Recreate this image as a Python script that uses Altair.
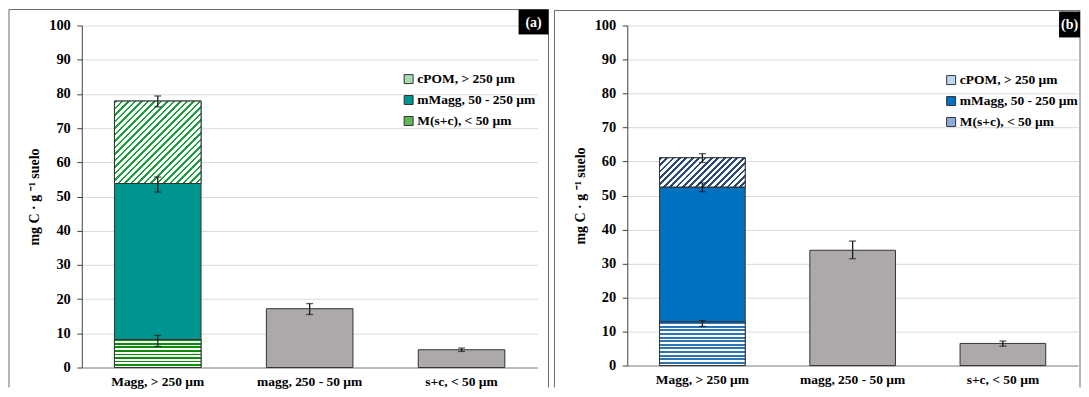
import altair as alt
import pandas as pd

categories = ["Magg, > 250 µm", "magg, 250 - 50 µm", "s+c, < 50 µm"]
fractions = ["cPOM, > 250 µm", "mMagg, 50 - 250 µm", "M(s+c), < 50 µm"]

# Panel (a): fractions of Magg (cPOM, mMagg, M(s+c)) and the other two size classes
a_frac_vals = [24.1, 45.6, 8.2]
a_frac_err_mid = [77.8, 53.5, 7.8]
a_frac_err = [1.6, 2.2, 1.6]
a_other_vals = [17.2, 5.2]
a_other_err_mid = [17.1, 5.2]
a_other_err = [1.6, 0.5]

# Panel (b)
b_frac_vals = [8.6, 39.7, 12.8]
b_frac_err_mid = [61.0, 52.4, 12.35]
b_frac_err = [1.3, 1.3, 0.85]
b_other_vals = [33.9, 6.5]
b_other_err_mid = [34.0, 6.45]
b_other_err = [2.6, 0.75]

y_ticks = [0, 10, 20, 30, 40, 50, 60, 70, 80, 90, 100]
y_title = "mg C · g ⁻¹ suelo"

FONT = "Liberation Serif"
PAD_IN = 0.43


def build(frac_vals, frac_err_mid, frac_err, other_vals, other_err_mid, other_err):
    seg = []
    cum = 0.0
    for f, v in reversed(list(zip(fractions, frac_vals))):
        seg.append({"cat": categories[0], "frac": f, "lo": cum, "hi": cum + v})
        cum += v
    oth = [{"cat": c, "lo": 0.0, "hi": v} for c, v in zip(categories[1:], other_vals)]
    err = [{"cat": categories[0], "lo": m - e, "hi": m + e}
           for m, e in zip(frac_err_mid, frac_err)]
    err += [{"cat": c, "lo": m - e, "hi": m + e}
            for c, m, e in zip(categories[1:], other_err_mid, other_err)]
    return pd.DataFrame(seg), pd.DataFrame(oth), pd.DataFrame(err)


def stripe_stops(c_on, c_off, n, frac_on):
    stops = []
    for i in range(n):
        a = i / n
        b = (i + frac_on) / n
        c = (i + 1) / n
        stops += [
            alt.GradientStop(color=c_on, offset=round(a, 5)),
            alt.GradientStop(color=c_on, offset=round(b, 5)),
            alt.GradientStop(color=c_off, offset=round(b, 5)),
            alt.GradientStop(color=c_off, offset=round(c, 5)),
        ]
    return stops


def diag_gradient(color, w, h, period=6.4, frac_on=0.45):
    n = max(1, round((w + h) / period))
    k = w * (w + h) / (w * w + h * h)
    return alt.LinearGradient(gradient="linear", x1=0, y1=0, x2=round(k, 4),
                              y2=round(k * h / w, 4),
                              stops=stripe_stops(color, "#ffffff", n, frac_on))


def horiz_gradient(color, h, period=3.6, frac_on=0.55):
    n = max(1, round(h / period))
    return alt.LinearGradient(gradient="linear", x1=0, y1=0, x2=0, y2=1,
                              stops=stripe_stops(color, "#ffffff", n, frac_on))


def panel(data, W, H, legend_colors, diag_col, horiz_col, label,
          box, frame_top, frame_bottom, frame_right, legend_xy):
    seg, oth, err = data
    step = W / 3.0
    bw = step * (1 - PAD_IN)
    ppu = H / 100.0
    h_cpom = float(seg.loc[seg.frac == fractions[0], "hi"].iloc[0]
                   - seg.loc[seg.frac == fractions[0], "lo"].iloc[0]) * ppu
    h_ms = float(seg.loc[seg.frac == fractions[2], "hi"].iloc[0]
                 - seg.loc[seg.frac == fractions[2], "lo"].iloc[0]) * ppu

    x = alt.X("cat:N", scale=alt.Scale(domain=categories, paddingInner=PAD_IN,
                                       paddingOuter=PAD_IN / 2),
              axis=alt.Axis(title=None, labelAngle=0))
    yaxis = alt.Axis(values=y_ticks, title=y_title)
    yscale = alt.Scale(domain=[0, 100], nice=False)
    y = alt.Y("lo:Q", scale=yscale, axis=yaxis)
    yhi = alt.Y("hi:Q", scale=yscale, axis=yaxis)
    y2 = alt.Y2("hi:Q")

    base_seg = alt.Chart(seg)
    solid_layer = base_seg.mark_bar(stroke="#333333", strokeWidth=1).encode(
        x=x, y=y, y2=y2,
        color=alt.Color("frac:N", scale=alt.Scale(domain=fractions, range=legend_colors),
                        legend=alt.Legend(
                            title=None, orient="none", legendX=legend_xy[0],
                            legendY=legend_xy[1], symbolType="square", symbolSize=81,
                            symbolStrokeColor="#333333", symbolStrokeWidth=1,
                            labelFont=FONT, labelFontSize=13.5, labelFontWeight="bold",
                            labelColor="#000000", rowPadding=6, labelOffset=2,
                            padding=0, labelLimit=300)),
    )
    cpom_layer = base_seg.transform_filter(alt.datum.frac == fractions[0]).mark_bar(
        fill=diag_gradient(diag_col, bw, h_cpom), stroke="#333333", strokeWidth=1
    ).encode(x=x, y=y, y2=y2)
    ms_layer = base_seg.transform_filter(alt.datum.frac == fractions[2]).mark_bar(
        fill=horiz_gradient(horiz_col, h_ms), stroke="#333333", strokeWidth=1
    ).encode(x=x, y=y, y2=y2)
    gray_layer = alt.Chart(oth).mark_bar(fill="#ada9a8", stroke="#333333",
                                         strokeWidth=1).encode(x=x, y=y, y2=y2)
    err_rule = alt.Chart(err).mark_rule(color="#1a1a1a", strokeWidth=1.3).encode(
        x=x, y=y, y2=y2)
    err_lo = alt.Chart(err).mark_tick(color="#1a1a1a", size=7, thickness=1.3).encode(
        x=x, y=y)
    err_hi = alt.Chart(err).mark_tick(color="#1a1a1a", size=7, thickness=1.3).encode(
        x=x, y=yhi)

    one = alt.Data(values=[{"k": 1}])
    frame = [
        alt.Chart(one).mark_rule(color="#6b6b6b", strokeWidth=1).encode(
            x=alt.value(-73), x2=alt.value(frame_right), y=alt.value(frame_top)),
        alt.Chart(one).mark_rule(color="#6b6b6b", strokeWidth=1).encode(
            x=alt.value(-73), y=alt.value(frame_top), y2=alt.value(frame_bottom)),
    ]
    if frame_right <= W + 15:
        frame.append(alt.Chart(one).mark_rule(color="#6b6b6b", strokeWidth=1).encode(
            x=alt.value(frame_right), y=alt.value(frame_top), y2=alt.value(frame_bottom)))
    bx0, bx1, by0, by1 = box
    box_rect = alt.Chart(one).mark_rect(color="#000000").encode(
        x=alt.value(bx0), x2=alt.value(bx1), y=alt.value(by0), y2=alt.value(by1))
    box_text = alt.Chart(one).mark_text(
        color="#ffffff", font=FONT, fontWeight="bold", fontSize=14,
        align="center", baseline="middle").encode(
        x=alt.value((bx0 + bx1) / 2), y=alt.value((by0 + by1) / 2 + 1),
        text=alt.value(label))

    return alt.layer(solid_layer, cpom_layer, ms_layer, gray_layer, err_rule,
                     err_lo, err_hi, *frame, box_rect, box_text).properties(
        width=W, height=H)


Wa, Ha = 457, 343
Wb, Hb = 452, 341

pa = panel(build(a_frac_vals, a_frac_err_mid, a_frac_err, a_other_vals,
                 a_other_err_mid, a_other_err),
           Wa, Ha, ["#a3dbb4", "#009490", "#5cb85c"], "#1f9e3f", "#0c8c0c",
           "(a)", (438, 468, -16, 9), -16, Ha + 20, Wa + 11, (321, 47))

pb = panel(build(b_frac_vals, b_frac_err_mid, b_frac_err, b_other_vals,
                 b_other_err_mid, b_other_err),
           Wb, Hb, ["#bdd7ee", "#0070c0", "#8eaadb"], "#2b4a7a", "#2e75b6",
           "(b)", (433, 454, -14, 12), -15, Hb + 22, Wb + 2, (318, 48))

chart = alt.hconcat(pa, pb, spacing=4).resolve_scale(color="independent").properties(
    padding=0
).configure_view(
    stroke=None
).configure_axis(
    labelFont=FONT, labelFontWeight="bold", labelFontSize=13.5, labelColor="#000000",
    titleFont=FONT, titleFontWeight="bold", titleFontSize=14, titleColor="#000000",
).configure_axisY(
    grid=True, gridColor="#d9d9d9", domainColor="#404040", tickColor="#404040",
    tickSize=5, labelPadding=6.5, titlePadding=7, labelOverlap=False, labelFontSize=14.5,
).configure_axisX(
    grid=False, ticks=False, domainColor="#8c8c8c", labelPadding=7,
)

chart.save("out.html", embed_options={"renderer": "svg", "actions": False})
